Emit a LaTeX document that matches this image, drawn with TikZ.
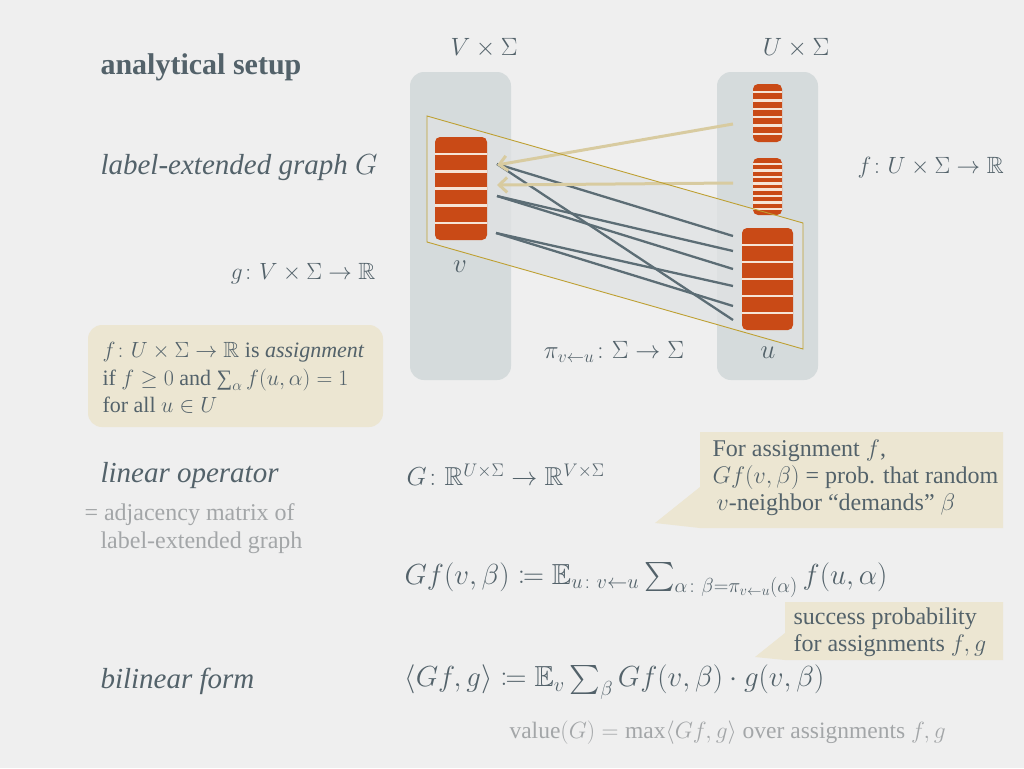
\documentclass[tikz,border=0pt]{standalone}
\usepackage{fix-cm}
\usepackage{amsmath,amssymb,mathtools}
\usepackage{fontspec}
\setmainfont{Liberation Serif}
\usetikzlibrary{arrows.meta,positioning,calc}

\definecolor{bgc}{RGB}{239,239,239}
\definecolor{slate}{RGB}{83,98,106}
\definecolor{greytext}{RGB}{163,166,168}
\definecolor{colfill}{RGB}{213,219,220}
\definecolor{rust}{RGB}{201,74,22}
\definecolor{stripec}{RGB}{246,228,214}
\definecolor{gold}{RGB}{190,160,50}
\definecolor{sand}{RGB}{216,203,160}
\definecolor{edgec}{RGB}{92,109,117}
\definecolor{notefill}{RGB}{236,230,210}
\definecolor{pgramc}{RGB}{224,226,227}

\tikzset{
	head/.style={anchor=west, text=slate, font=\fontsize{29}{34}\selectfont\itshape},
	mathlbl/.style={text=slate, font=\fontsize{25}{30}\selectfont},
	formula/.style={anchor=west, text=slate, font=\fontsize{29}{34}\selectfont},
	small/.style={text=slate, font=\fontsize{24}{27}\selectfont, align=left},
	faint/.style={text=greytext, font=\fontsize{24}{27}\selectfont, align=left},
	column/.style={fill=colfill, rounded corners=14pt, minimum width=101pt, minimum height=308pt},
	block/.style={fill=rust, rounded corners=5pt, inner sep=0pt},
	stripe/.style={draw=stripec, line width=2.5pt},
	edge/.style={draw=edgec, line width=2.3pt},
	pull/.style={draw=sand, line width=3pt, -{Straight Barb[length=8pt,width=15pt]}},
	note/.style={fill=notefill},
}

\begin{document}
\begin{tikzpicture}[x=1pt,y=-1pt]
	\useasboundingbox (0,0) rectangle (1024,768);
	\fill[bgc] (0,0) rectangle (1024,768);

	% the two sides of the label-extended graph
	\node[column] (vcol) at (460.5,226) {};
	\node[column] (ucol) at (767.5,226) {};

	\coordinate (p1) at (427,116);
	\coordinate (p2) at (803,223);
	\coordinate (p3) at (803,349);
	\coordinate (p4) at (427,242);
	\fill[pgramc, opacity=0.74] (p1) -- (p2) -- (p3) -- (p4) -- cycle;

	\node[block, minimum width=52pt, minimum height=103pt] (vb) at (461,188.5) {};
	\node[block, minimum width=29pt, minimum height=58pt] (ua) at (767.5,113) {};
	\node[block, minimum width=29pt, minimum height=57pt] (ub) at (767.5,186.5) {};
	\node[block, minimum width=51pt, minimum height=102pt] (ubig) at (767.5,279) {};

	\foreach \blk/\parts in {vb/6,ua/7,ub/9,ubig/6}{
		\pgfmathtruncatemacro{\last}{\parts-1}
		\foreach \i in {1,...,\last}
			\draw[stripe] ($(\blk.north west)!\i/\parts!(\blk.south west)$) -- ($(\blk.north east)!\i/\parts!(\blk.south east)$);
	}

	% edges
	\coordinate (va) at (497,164);
	\coordinate (vm) at (497,196);
	\coordinate (vc) at (496,233);
	\coordinate (u1) at (733,236);
	\coordinate (u2) at (733,251);
	\coordinate (u3) at (733,269);
	\coordinate (u4) at (733,286);
	\coordinate (u5) at (733,306);
	\coordinate (u6) at (733,320);

	\draw[edge] (va) -- (u1);
	\draw[edge] (va) -- (u6);
	\draw[edge] (vm) -- (u2);
	\draw[edge] (vm) -- (u3);
	\draw[edge] (vc) -- (u4);
	\draw[edge] (vc) -- (u5);

	\coordinate (ta) at (733,124);
	\coordinate (tb) at (733,183);
	\coordinate (ha) at (497,165);
	\coordinate (hb) at (497,185);
	\draw[pull] (ta) -- (ha);
	\draw[pull] (tb) -- (hb);

	\draw[gold, line width=0.9pt] (p1) -- (p2) -- (p3) -- (p4) -- cycle;

	\node[mathlbl] (vlab) at (484,48) {$V\times\Sigma$};
	\node[mathlbl] (ulab) at (796,48) {$U\times\Sigma$};
	\node[mathlbl, font=\fontsize{27}{30}\selectfont] (vv) at (460,267) {$v$};
	\node[mathlbl, font=\fontsize{27}{30}\selectfont] (uu) at (768,353) {$u$};
	\node[mathlbl] (pi) at (614,352) {$\pi_{v\leftarrow u}\colon\Sigma\to\Sigma$};
	\node[mathlbl, anchor=west, font=\fontsize{23.5}{28}\selectfont] (fmap) at (854,168) {$f\colon U\times\Sigma\to\mathbb{R}$};

	% left column of headings
	\node[anchor=west, text=slate, font=\fontsize{30}{34}\selectfont\bfseries] (title) at (97,67) {analytical setup};
	\node[head] (leg) at (97,168) {label-extended graph $G$};
	\node[mathlbl, anchor=east, font=\fontsize{23.5}{28}\selectfont] (gmap) at (379,274) {$g\colon V\times\Sigma\to\mathbb{R}$};

	\node[note, rounded corners=14pt, minimum width=295pt, minimum height=102pt] (assign) at (235.5,376) {};
	\node[small, anchor=west, font=\fontsize{22}{27.5}\selectfont] (assigntxt) at (99,378) {$f\colon U\times\Sigma\to\mathbb{R}$ is \emph{assignment}\\
		if $f\geq 0$ and $\mathop{\text{∑}}\nolimits_\alpha f(u,\alpha)=1$\\
		for all $u\in U$};

	\node[head] (linop) at (97,476) {linear operator};
	\node[faint, anchor=west] (adj) at (81,515) {= adjacency matrix of};
	\node[faint, anchor=west] (adjb) at (97,543) {label-extended graph};
	\node[head] (bil) at (97,681) {bilinear form};

	% formulas
	\node[mathlbl, anchor=west, font=\fontsize{26}{30}\selectfont] (Gop) at (403,475) {$G\colon \mathbb{R}^{U\times\Sigma}\to\mathbb{R}^{V\times\Sigma}$};
	\node[formula] (Gf) at (401,580) {$Gf(v,\beta)\coloneqq\mathbb{E}_{u\colon v\leftarrow u}\textstyle\sum_{\alpha\colon\beta=\pi_{v\leftarrow u}(\alpha)} f(u,\alpha)$};
	\node[formula] (form) at (401,682) {$\langle Gf,g\rangle\coloneqq\mathbb{E}_v\textstyle\sum_\beta Gf(v,\beta)\cdot g(v,\beta)$};
	\node[faint, anchor=west, font=\fontsize{23.5}{27}\selectfont] (val) at (506,733) {value$(G)=\max\langle Gf,g\rangle$ over assignments $f,g$};

	% callouts
	\fill[note] (700,432) -- (1003,432) -- (1003,528) -- (700,528) -- (655,523) -- (700,487) -- cycle;
	\node[small, anchor=west] (note1) at (709,478) {For assignment $f$,\\
		$Gf(v,\beta)$ = prob. that random\\
		\,$v$-neighbor ``demands'' $\beta$};

	\fill[note] (785,602) -- (1003,602) -- (1003,660) -- (785,660) -- (755,657) -- (785,633) -- cycle;
	\node[small, anchor=west] (note2) at (790,632) {success probability\\
		for assignments $f,g$};
\end{tikzpicture}
\end{document}
